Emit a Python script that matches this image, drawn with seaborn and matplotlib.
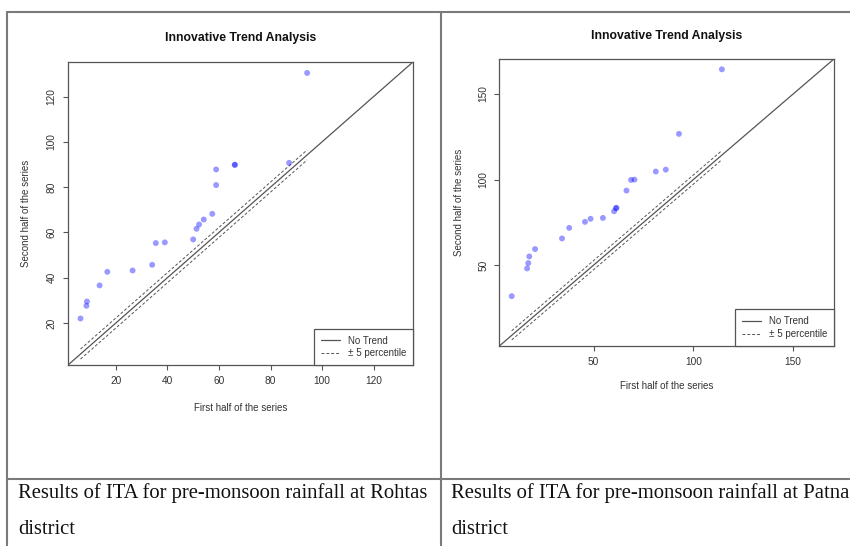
import numpy as np
import pandas as pd
import matplotlib
matplotlib.use("Agg")
import matplotlib.pyplot as plt
from matplotlib.lines import Line2D
from matplotlib.ticker import MultipleLocator
import seaborn as sns

# --- data (sorted halves of each series) ---
rohtas_first = [6.3, 8.6, 8.8, 13.7, 16.7, 26.5, 34.1, 35.5, 39.0, 50.0,
                51.3, 52.3, 54.1, 57.4, 58.9, 58.9, 66.1, 66.2, 87.2, 94.2]
rohtas_second = [22.0, 27.6, 29.5, 36.6, 42.6, 43.2, 45.7, 55.3, 55.6, 56.9,
                 61.6, 63.5, 65.7, 68.2, 80.9, 87.8, 89.8, 89.9, 90.7, 130.4]

patna_first = [9.0, 16.7, 17.3, 17.8, 20.7, 34.2, 37.8, 45.7, 48.5, 54.7,
               60.3, 61.2, 61.5, 66.5, 68.8, 70.5, 81.2, 86.2, 92.8, 114.3]
patna_second = [31.9, 48.1, 51.2, 55.1, 59.4, 65.6, 71.8, 75.3, 77.1, 77.6,
                81.5, 83.3, 83.5, 93.6, 99.8, 100.0, 104.7, 105.8, 126.7, 164.4]

captions = [["Results of ITA for pre-monsoon rainfall at Rohtas", "district"],
            ["Results of ITA for pre-monsoon rainfall at Patna", "district"]]
tick_steps = [20, 50]

TITLE = "Innovative Trend Analysis"
XLABEL = "First half of the series"
YLABEL = "Second half of the series"
LEGEND_LABELS = ["No Trend", "\u00b1 5 percentile"]

sns.set_style("white")
plt.rcParams["font.family"] = ["Liberation Sans", "DejaVu Sans"]

TXT = "#333333"
LINE = "#555555"


def ita_panel(ax, first, second, step):
    df = pd.DataFrame({"first": first, "second": second})
    allv = np.concatenate([df["first"].values, df["second"].values])
    lo, hi = allv.min(), allv.max()
    ext = 0.04 * (hi - lo)
    lo, hi = lo - ext, hi + ext

    sns.scatterplot(data=df, x="first", y="second", ax=ax, color="#0000ff",
                    alpha=0.4, s=18, edgecolor="none", legend=False, zorder=3)

    # 1:1 no-trend line, corner to corner
    ax.plot([lo, hi], [lo, hi], color=LINE, lw=0.9, zorder=2)
    # +/- 5 percentile band around the 1:1 line
    band = 0.05 * df["first"].mean()
    xs = np.array([df["first"].min(), df["first"].max()])
    for sgn in (1, -1):
        ax.plot(xs, xs + sgn * band, color=LINE, lw=0.7,
                linestyle=(0, (3, 2)), zorder=2)

    ax.set_xlim(lo, hi)
    ax.set_ylim(lo, hi)
    ax.xaxis.set_major_locator(MultipleLocator(step))
    ax.yaxis.set_major_locator(MultipleLocator(step))

    for sp in ax.spines.values():
        sp.set_color(LINE)
        sp.set_linewidth(0.9)
    ax.tick_params(direction="out", length=3.4, width=0.8, color=LINE,
                   labelsize=7.3, labelcolor=TXT, pad=4.5, bottom=True, left=True)
    ax.tick_params(axis="y", labelrotation=90)
    for lab in ax.get_yticklabels():
        lab.set_va("center")

    ax.set_xlabel(XLABEL, fontsize=7, color=TXT)
    ax.set_ylabel(YLABEL, fontsize=7, color=TXT)
    ax.xaxis.label.set_va("center")
    ax.yaxis.label.set_va("center")
    ax.xaxis.set_label_coords(0.5, -0.1405)
    ax.yaxis.set_label_coords(-0.1205, 0.5)

    ax.text(0.5, 1.079, TITLE, transform=ax.transAxes, ha="center", va="center",
            fontsize=8.8, fontweight="bold", color="#111111")

    handles = [Line2D([], [], color=LINE, lw=0.9),
               Line2D([], [], color=LINE, lw=0.7, linestyle=(0, (3, 2)))]
    leg = ax.legend(handles, LEGEND_LABELS, loc="lower right", borderaxespad=0,
                    fontsize=7, frameon=True, fancybox=False, framealpha=1,
                    edgecolor=LINE, borderpad=0.7, labelspacing=0.3,
                    handlelength=2.0, handletextpad=0.8)
    leg.get_frame().set_linewidth(0.9)
    for t in leg.get_texts():
        t.set_color(TXT)


fig = plt.figure(figsize=(8.5, 5.46), dpi=100)
W, H = 850, 546


def px_axes(x0, y0, x1, y1):
    return fig.add_axes([x0 / W, 1 - y1 / H, (x1 - x0) / W, (y1 - y0) / H])


ax1 = px_axes(67.7, 61.7, 413.3, 365.3)
ax2 = px_axes(499.3, 58.7, 834.3, 346.0)
ita_panel(ax1, rohtas_first, rohtas_second, tick_steps[0])
ita_panel(ax2, patna_first, patna_second, tick_steps[1])

# table grid around the two figures
grid_kw = dict(color="#7a7a7a", lw=1.5, transform=fig.transFigure)
fig.add_artist(Line2D([7.3 / W, 1], [1 - 12.3 / H] * 2, **grid_kw))
fig.add_artist(Line2D([7.3 / W, 1], [1 - 479 / H] * 2, **grid_kw))
fig.add_artist(Line2D([7.3 / W] * 2, [0, 1 - 12.3 / H], **grid_kw))
fig.add_artist(Line2D([441 / W] * 2, [0, 1 - 12.3 / H], **grid_kw))

for x0, lines in zip([18.5, 451.5], captions):
    for yb, line in zip([497.7, 534.0], lines):
        fig.text(x0 / W, 1 - yb / H, line, ha="left", va="baseline",
                 family=["Liberation Serif", "DejaVu Serif"], fontsize=14.9,
                 color="#111111")

fig.savefig("out.png", dpi=100)
